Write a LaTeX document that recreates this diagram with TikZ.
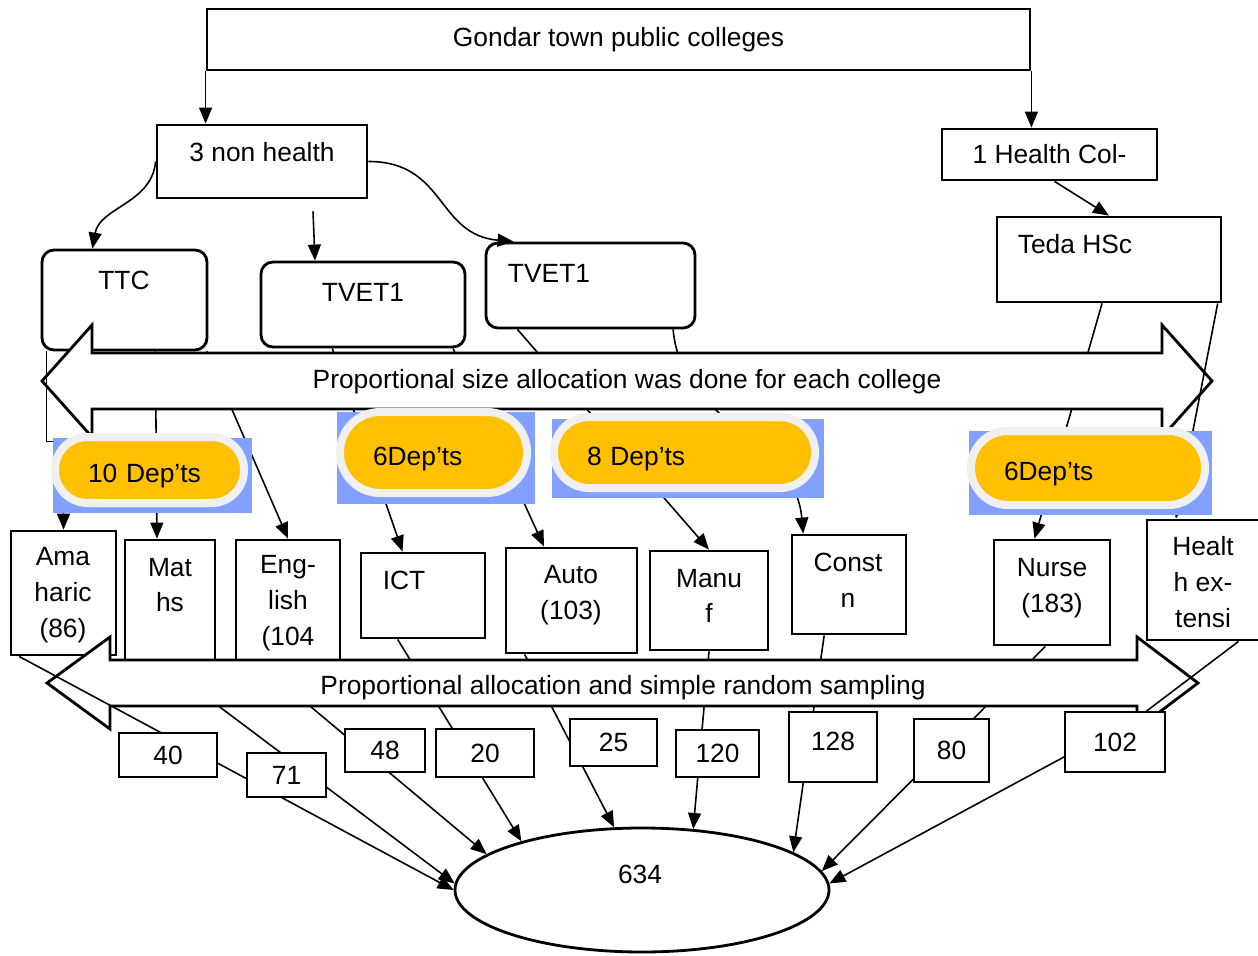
\documentclass[tikz,border=0pt]{standalone}
\usepackage{fontspec}
\setmainfont{Liberation Sans}
\usetikzlibrary{arrows.meta,shapes.geometric,calc}

\definecolor{depgold}{HTML}{FFC000}
\definecolor{depring}{HTML}{F0F0F0}
\definecolor{depblue}{HTML}{82A0FF}

\pgfdeclarelayer{behind}
\pgfsetlayers{behind,main}

\tikzset{
  plainbox/.style={draw, fill=white, line width=0.8pt, inner sep=0pt},
  college/.style={plainbox, rounded corners=1.2mm},
  bigarrow/.style={draw, fill=white, line width=0.8pt},
  pill/.style={draw=depring, fill=depgold, line width=0.8mm, inner xsep=3.3mm, inner ysep=0pt,
    align=left, text height=2.5mm, text depth=0mm},
  deptext/.style={align=center},
  link/.style={->, line width=0.45pt},
}

\begin{document}
\begin{tikzpicture}[x=0.1mm, y=-0.1mm, >={Triangle[length=1.6mm, width=1.3mm]}, every node/.style={font=\fontsize{7.5}{10.2}\selectfont}]
	\useasboundingbox (0,0) rectangle (1258,955);

	% colleges
	\node[plainbox, minimum width=82.3mm, minimum height=6.1mm] (gondar) at (618.5,39.5) {Gondar town public colleges};
	\node[plainbox, minimum width=21mm, minimum height=7.3mm] (nonhealth) at (262,161.5) {};
	\node (nonhealthtext) at (262,152) {3 non health};
	\node[plainbox, minimum width=21.5mm, minimum height=5.1mm] (health) at (1049.5,154.5) {1 Health Col-};
	\node[plainbox, minimum width=22.4mm, minimum height=8.5mm] (teda) at (1109,259.5) {};
	\node (tedatext) at (1075,244) {Teda HSc};
	\node[college, minimum width=16.5mm, minimum height=10mm] (ttc) at (124.5,300) {};
	\node (ttctext) at (124,280) {TTC};
	\node[college, minimum width=20.4mm, minimum height=8.5mm] (tveta) at (363,304.5) {};
	\node (tvetatext) at (363,292) {TVET1};
	\node[college, minimum width=20.9mm, minimum height=8.5mm] (tvetb) at (590.5,285.5) {};
	\node (tvetbtext) at (549,273) {TVET1};

	\draw[link] (gondar.south west) -- (gondar.south west |- nonhealth.north);
	\draw[link] (gondar.south east) -- (gondar.south east |- health.north);
	\draw[link] ($(health.south)+(5,0)$) -- (teda.north);
	\draw[link] (nonhealth.west) to[out=-95, in=80] (ttc.122);
	\draw[link] ($(nonhealth.south)+(51,12)$) -- ($(tveta.north)+(-48,0)$);
	\draw[link] (nonhealth.east) to[out=0, in=175, looseness=1.2] ($(tvetb.north west)+(29,0)$);

	% departments
	\node[plainbox, minimum width=10.5mm, minimum height=12.4mm] (ama) at (63.5,593) {};
	\node[deptext] (amatext) at (63,595) {Ama\\haric\\(86)};
	\node[plainbox, minimum width=9mm, minimum height=12mm] (maths) at (170,600) {};
	\node[deptext] (mathstext) at (170,585) {Mat\\hs};
	\node[plainbox, minimum width=10.4mm, minimum height=12mm] (eng) at (288,600) {};
	\node[deptext] (engtext) at (288,603) {Eng-\\lish\\(104};
	\node[plainbox, minimum width=12.4mm, minimum height=8.5mm] (ict) at (423,595.5) {};
	\node (icttext) at (404,580) {ICT};
	\node[plainbox, minimum width=13.1mm, minimum height=10.5mm] (auto) at (571.5,600.5) {};
	\node[deptext] (autotext) at (571,595) {Auto\\(103)};
	\node[plainbox, minimum width=11.8mm, minimum height=9.9mm] (manuf) at (709,600.5) {};
	\node[deptext] (manuftext) at (709,596) {Manu\\f};
	\node[plainbox, minimum width=11.4mm, minimum height=9.9mm] (constn) at (849,584.5) {};
	\node[deptext] (constntext) at (848,580) {Const\\n};
	\node[plainbox, minimum width=11.6mm, minimum height=10.5mm] (nurse) at (1052,592.5) {};
	\node[deptext] (nursetext) at (1052,588) {Nurse\\(183)};
	\node[plainbox, minimum width=11.5mm, minimum height=12mm] (hext) at (1204.5,580) {};
	\node[deptext] (hexttext) at (1203,582) {Healt\\h ex-\\tensi};

	% total
	\node[draw, ellipse, fill=white, line width=0.8pt, minimum width=37.4mm, minimum height=12.4mm, inner sep=0pt] (total) at (642,890) {};
	\node (totaltext) at (640,874) {634};

	\begin{pgfonlayer}{behind}
		\draw[link] (ttc.301) -- (maths.102);
		\draw[link] (ttc.-32) -- (eng.north);
		\draw[link] (tveta.235) -- (ict.115);
		\draw[link] (tveta.-26) -- (auto.117);
		\draw[link] (tvetb.211) -- (manuf.north);
		\draw[link] (tvetb.-28) to[out=-85, in=95] (constn.132);
		\draw[link] (teda.261) -- (nurse.108);
		\draw[link] (maths.260) -- (total.178);
		\draw[link] (eng.243) -- (total.167);
		\draw[link] (ict.240) -- (total.158);
		\draw[link] (auto.229) -- (total.114);
		\draw[link] (manuf.south) -- (total.50);
		\draw[link] (constn.244) -- (total.14);
		\draw[link] (nurse.263) -- (total.6);
	\end{pgfonlayer}

	% upper double arrow
	\draw[bigarrow] (42,381) -- (92,325) -- (92,353) -- (1162,353) -- (1162,325) -- (1212,381)
		-- (1162,437) -- (1162,409) -- (92,409) -- (92,437) -- cycle;
	\node (sizealloc) at (627,382) {Proportional size allocation was done for each college};

	\draw[link] ($(ttc.south west)+(6,0)$) -- ++(0,90) -| (ama.north);
	\draw[link] (teda.-22) -- (hext.115);

	% department counts
	\fill[depblue] (53,438) rectangle (252,513);
	\fill[depblue] (337,412) rectangle (535,504);
	\fill[depblue] (552,419) rectangle (824,498);
	\fill[depblue] (969,431) rectangle (1212,515);
	\node[pill, minimum width=18.9mm, minimum height=6.6mm, text width=12.3mm, rounded corners=3.25mm] (pillten) at (149.5,470) {10 Dep’ts};
	\node[pill, minimum width=18.7mm, minimum height=8.1mm, text width=12.1mm, rounded corners=4mm] (pillsixa) at (433.5,452.5) {6Dep’ts};
	\node[pill, minimum width=26.1mm, minimum height=7.1mm, text width=19.5mm, rounded corners=3.5mm] (pilleight) at (684.5,452.5) {8 Dep’ts};
	\node[pill, minimum width=23.4mm, minimum height=7.4mm, text width=16.8mm, rounded corners=3.65mm] (pillsixb) at (1088,468) {6Dep’ts};

	% lower double arrow
	\draw[bigarrow] (47,683) -- (110,637) -- (110,660) -- (1137,660) -- (1137,637) -- (1198,683)
		-- (1137,729) -- (1137,706) -- (110,706) -- (110,729) -- cycle;
	\node (sampling) at (623,688) {Proportional allocation and simple random sampling};

	\draw[link] (ama.235) -- (total.west);
	\coordinate (hbend) at (1140,716);
	\draw[link] (hext.299) -- (hbend) -- (total.2);

	% sample sizes
	\node[plainbox, minimum width=9.8mm, minimum height=4.4mm] (n40) at (168,755) {\raisebox{-0.9mm}{40}};
	\node[plainbox, minimum width=7.9mm, minimum height=4.4mm] (n71) at (286.5,775) {71};
	\node[plainbox, minimum width=8mm, minimum height=4.3mm] (n48) at (385,750.5) {\raisebox{-0.9mm}{48}};
	\node[plainbox, minimum width=9.8mm, minimum height=4.8mm] (n20) at (485,753) {20};
	\node[plainbox, minimum width=8.7mm, minimum height=4.7mm] (n25) at (613.5,742.5) {25};
	\node[plainbox, minimum width=8.3mm, minimum height=4.7mm] (n120) at (717.5,753.5) {120};
	\node[plainbox, minimum width=8.8mm, minimum height=7mm] (n128) at (833,747) {\raisebox{1.2mm}{128}};
	\node[plainbox, minimum width=7.5mm, minimum height=6.3mm] (n80) at (951.5,750.5) {80};
	\node[plainbox, minimum width=10mm, minimum height=6mm] (n102) at (1115,742) {102};
\end{tikzpicture}
\end{document}
